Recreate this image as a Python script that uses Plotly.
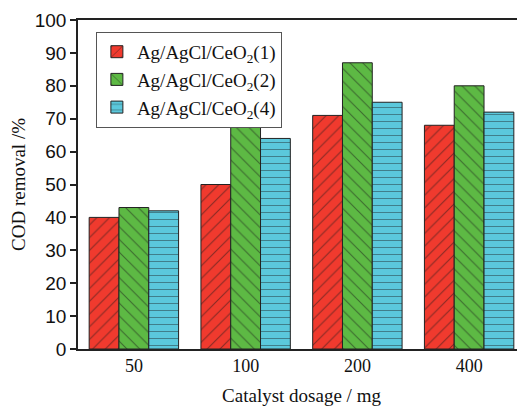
import plotly.graph_objects as go

categories = ["50", "100", "200", "400"]
series_names = ["Ag/AgCl/CeO<sub>2</sub>(1)", "Ag/AgCl/CeO<sub>2</sub>(2)", "Ag/AgCl/CeO<sub>2</sub>(4)"]
values_1 = [40, 50, 71, 68]
values_2 = [43, 68, 87, 80]
values_4 = [42, 64, 75, 72]
y_ticks = [0, 10, 20, 30, 40, 50, 60, 70, 80, 90, 100]

colors = ["#F03A2E", "#5DB944", "#5BC8DC"]
shapes = ["/", "\\", "-"]
sizes = [9, 9, 7]

fig = go.Figure()
for name, vals, c, sh, sz in zip(series_names, [values_1, values_2, values_4], colors, shapes, sizes):
    fig.add_trace(go.Bar(
        x=categories, y=vals, name=name,
        marker=dict(color=c, line=dict(color="#222222", width=1),
                    pattern=dict(shape=sh, fgcolor="#1a1a1a", bgcolor=c, size=sz, solidity=0.12)),
    ))

fig.update_layout(
    width=517, height=398,
    margin=dict(l=70, r=0, t=12, b=57, autoexpand=False),
    paper_bgcolor="white", plot_bgcolor="white",
    barmode="group", bargap=0.2, bargroupgap=0,
    showlegend=True,
    legend=dict(x=0.04, y=0.964, xanchor="left", yanchor="top",
                bordercolor="#555555", borderwidth=1, bgcolor="white",
                font=dict(family="Liberation Serif", size=19, color="#111111"),
                itemwidth=30),
    font=dict(family="Liberation Serif", color="#111111"),
)
fig.update_xaxes(
    type="category", range=[-0.5, 3.5], automargin=False,
    showline=True, linecolor="#222222", linewidth=1.5, mirror=True,
    ticks="", tickfont=dict(family="Liberation Serif", size=18, color="#111111"),
    title=dict(text="Catalyst dosage / mg", font=dict(family="Liberation Serif", size=19, color="#111111"), standoff=22),
    showgrid=False,
)
fig.update_yaxes(
    range=[0, 100], tickvals=y_ticks, automargin=False,
    showline=True, linecolor="#222222", linewidth=1.5,
    ticks="outside", ticklen=6, tickwidth=1.5, tickcolor="#222222",
    tickfont=dict(family="Liberation Sans", size=19, color="#111111"),
    title=dict(text="COD removal /%", font=dict(family="Liberation Serif", size=19, color="#111111"), standoff=8),
    showgrid=False, zeroline=False,
)

fig.write_html("out.html")
